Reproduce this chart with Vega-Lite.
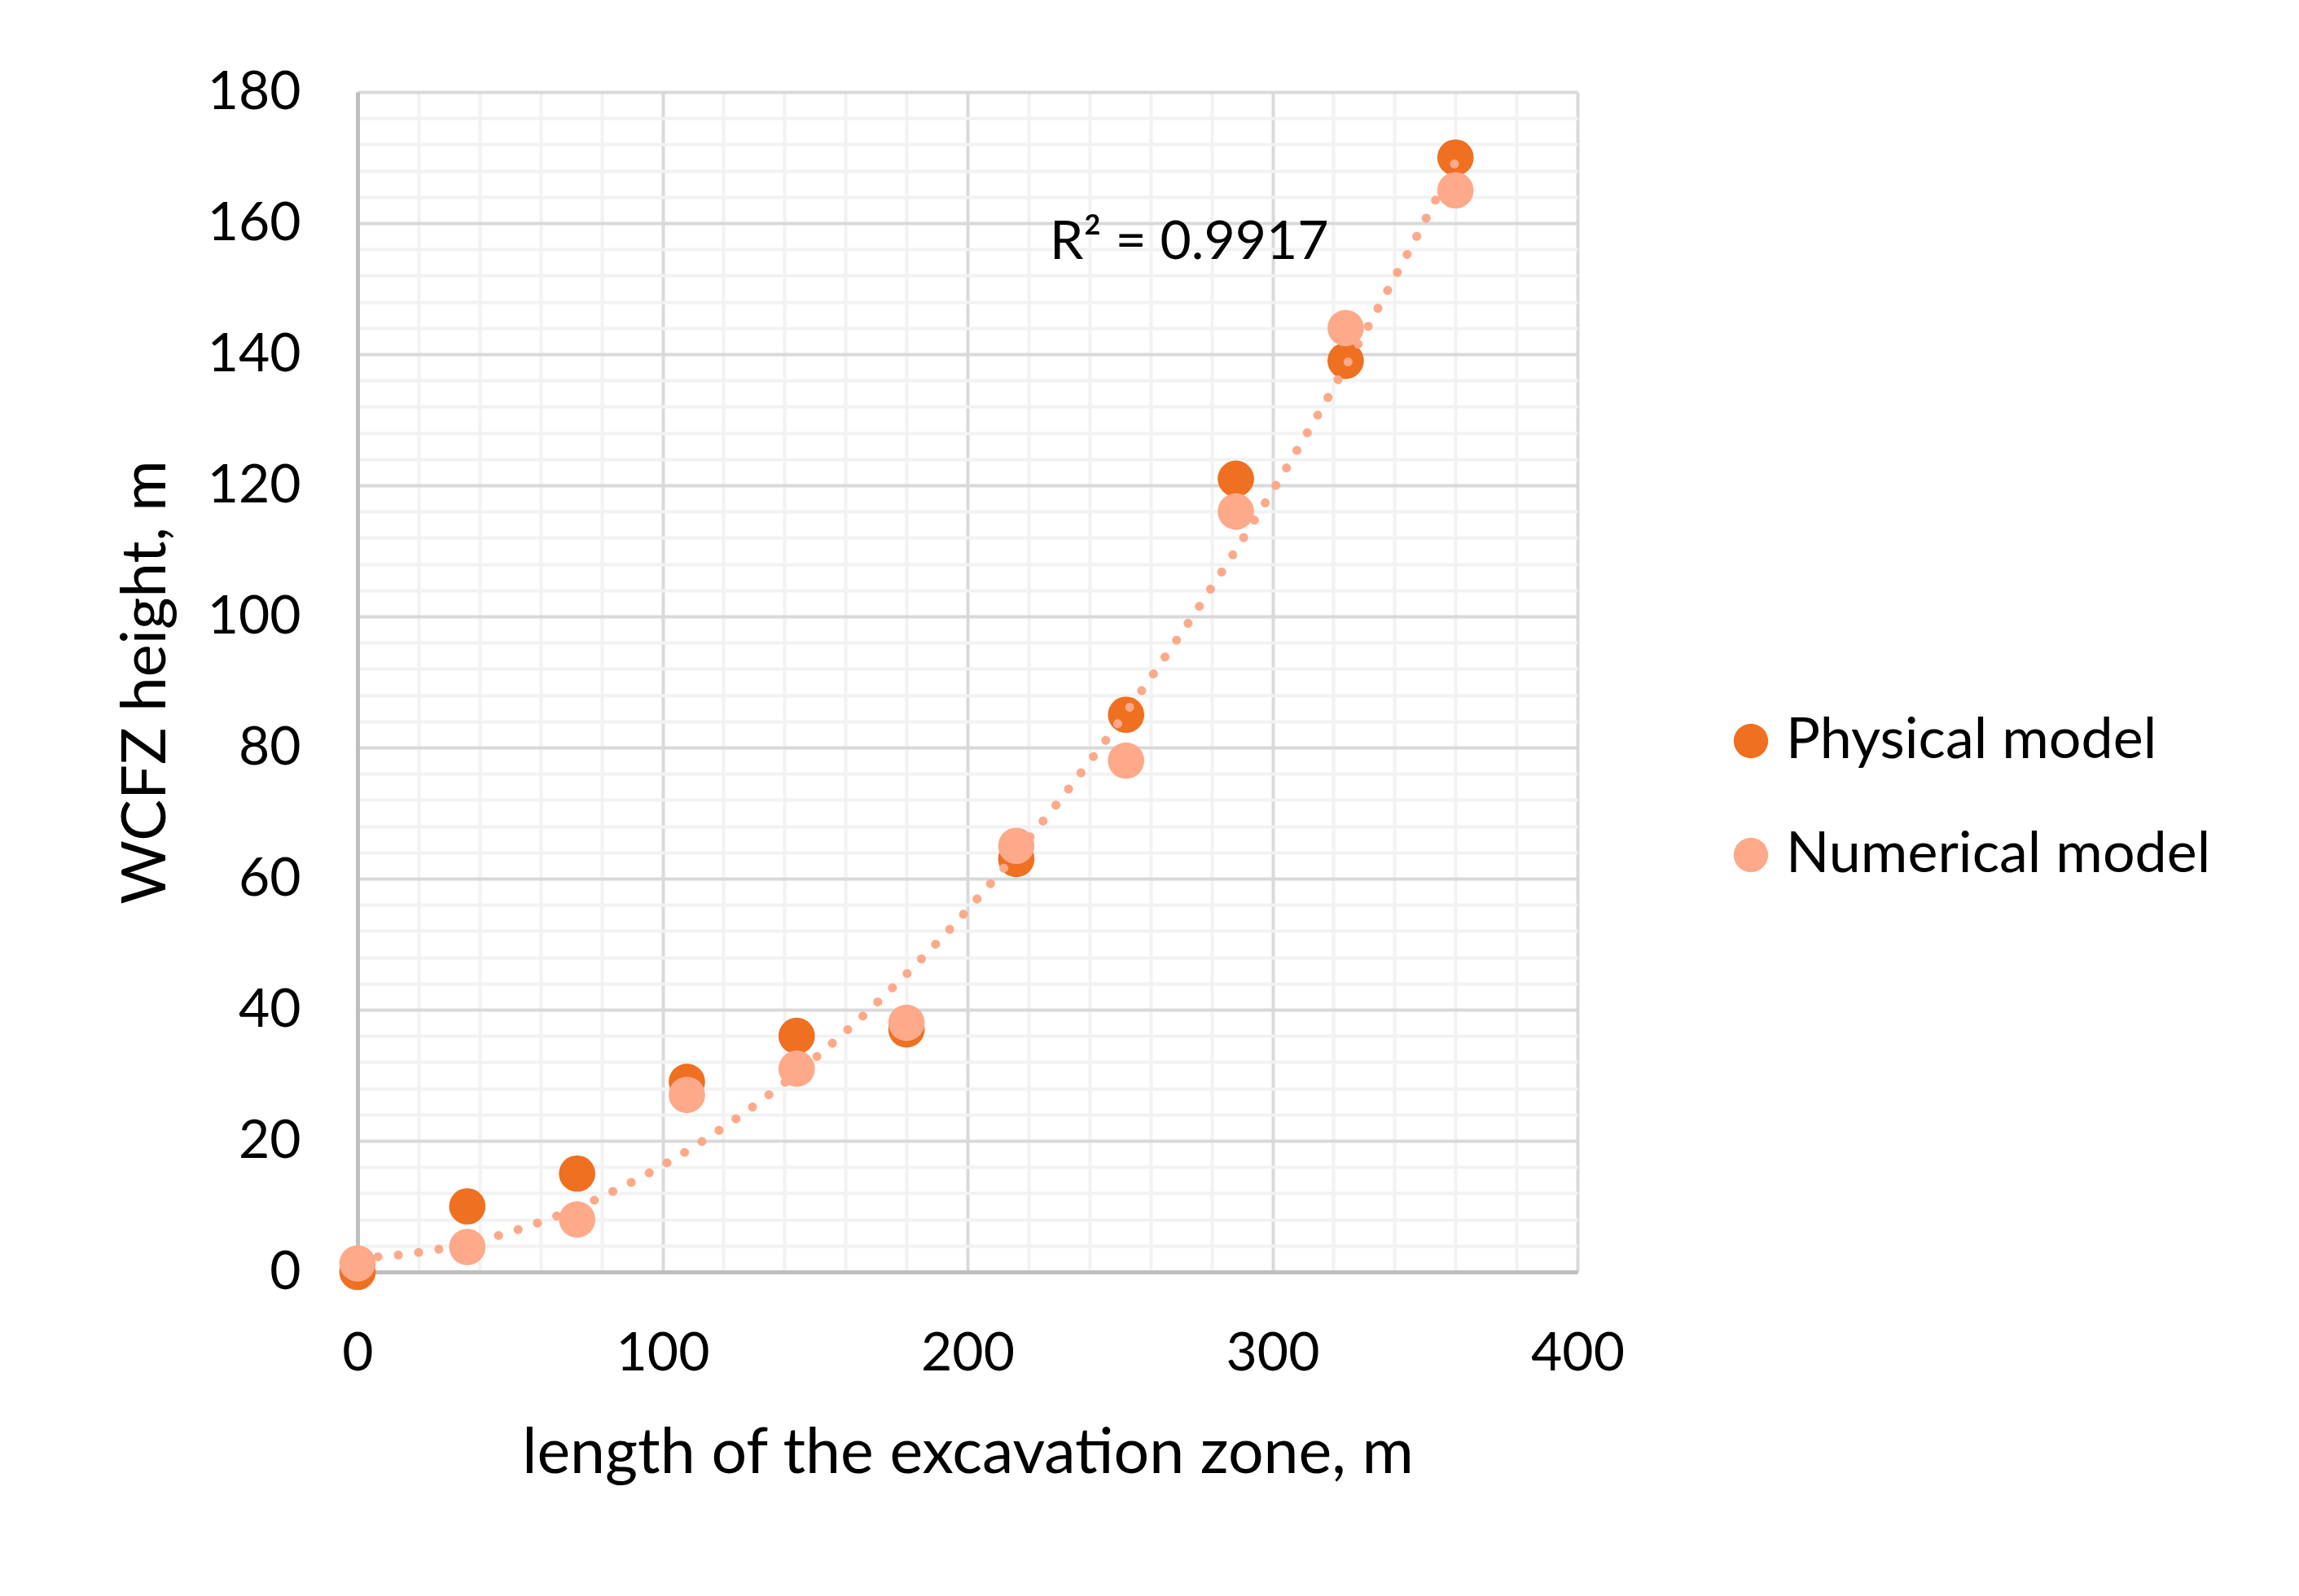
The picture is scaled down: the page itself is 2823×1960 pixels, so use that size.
{
  "$schema": "https://vega.github.io/schema/vega-lite/v6.json",
  "width": 1498,
  "height": 1449,
  "autosize": {"type": "none"},
  "padding": {"left": 439, "top": 113, "right": 886, "bottom": 398},
  "background": "white",
  "config": {
    "font": "Lato",
    "view": {"stroke": null},
    "axis": {"labelColor": "black", "titleColor": "black", "labelFont": "Lato", "titleFont": "Lato", "titleFontWeight": "normal"},
    "legend": {"labelFont": "Lato"}
  },
  "datasets": {
    "points": [
      {"x": 0, "y": 0, "series": "Physical model"},
      {"x": 36, "y": 10, "series": "Physical model"},
      {"x": 72, "y": 15, "series": "Physical model"},
      {"x": 108, "y": 29, "series": "Physical model"},
      {"x": 144, "y": 36, "series": "Physical model"},
      {"x": 180, "y": 37, "series": "Physical model"},
      {"x": 216, "y": 63, "series": "Physical model"},
      {"x": 252, "y": 85, "series": "Physical model"},
      {"x": 288, "y": 121, "series": "Physical model"},
      {"x": 324, "y": 139, "series": "Physical model"},
      {"x": 360, "y": 170, "series": "Physical model"},
      {"x": 0, "y": 1.3, "series": "Numerical model"},
      {"x": 36, "y": 3.8, "series": "Numerical model"},
      {"x": 72, "y": 8, "series": "Numerical model"},
      {"x": 108, "y": 27, "series": "Numerical model"},
      {"x": 144, "y": 31, "series": "Numerical model"},
      {"x": 180, "y": 38, "series": "Numerical model"},
      {"x": 216, "y": 65, "series": "Numerical model"},
      {"x": 252, "y": 78, "series": "Numerical model"},
      {"x": 288, "y": 116, "series": "Numerical model"},
      {"x": 324, "y": 144, "series": "Numerical model"},
      {"x": 360, "y": 165, "series": "Numerical model"}
    ],
    "note": [{"x": 227, "y": 157, "label": "R² = 0.9917"}]
  },
  "layer": [
    {
      "data": {"name": "points"},
      "mark": {"type": "point", "opacity": 0},
      "encoding": {
        "x": {"field": "x", "type": "quantitative", "scale": {"domain": [0, 400], "nice": false},
          "axis": {"orient": "bottom", "values": [20, 40, 60, 80, 120, 140, 160, 180, 220, 240, 260, 280, 320, 340, 360, 380], "grid": true, "gridColor": "#f2f2f2", "gridWidth": 4, "labels": false, "ticks": false, "domain": false, "title": null, "zindex": 0}},
        "y": {"field": "y", "type": "quantitative", "scale": {"domain": [0, 180], "nice": false},
          "axis": {"orient": "left", "values": [4, 8, 12, 16, 24, 28, 32, 36, 44, 48, 52, 56, 64, 68, 72, 76, 84, 88, 92, 96, 104, 108, 112, 116, 124, 128, 132, 136, 144, 148, 152, 156, 164, 168, 172, 176], "grid": true, "gridColor": "#f2f2f2", "gridWidth": 4, "labels": false, "ticks": false, "domain": false, "title": null, "zindex": 0}}
      }
    },
    {
      "data": {"name": "points"},
      "mark": {"type": "circle", "opacity": 1, "size": 2000},
      "encoding": {
        "x": {"field": "x", "type": "quantitative",
          "axis": {"orient": "bottom", "values": [0, 100, 200, 300, 400], "grid": true, "gridColor": "#d9d9d9", "gridWidth": 4, "ticks": false, "domain": true, "domainColor": "#bfbfbf", "domainWidth": 5, "labelFontSize": 66, "labelFlush": false, "labelPadding": 68, "title": "length of the excavation zone, m", "titleFontSize": 77, "titlePadding": 52, "zindex": 0}},
        "y": {"field": "y", "type": "quantitative",
          "axis": {"orient": "left", "values": [0, 20, 40, 60, 80, 100, 120, 140, 160, 180], "grid": true, "gridColor": "#d9d9d9", "gridWidth": 4, "ticks": false, "domain": true, "domainColor": "#bfbfbf", "domainWidth": 5, "labelFontSize": 66, "labelPadding": 70, "title": "WCFZ height, m", "titleFontSize": 76, "titlePadding": 36, "zindex": 0}},
        "color": {"field": "series", "type": "nominal",
          "scale": {"domain": ["Physical model", "Numerical model"], "range": ["#ee7020", "#fda98a"]},
          "legend": {"title": null, "orient": "none", "legendX": 1676, "legendY": 762, "symbolType": "circle", "symbolSize": 1800, "symbolOpacity": 1, "labelFontSize": 70, "labelColor": "black", "labelOffset": 8, "rowPadding": 70, "labelLimit": 1000}},
        "order": {"field": "series", "sort": "descending"}
      }
    },
    {
      "data": {"name": "points"},
      "transform": [
        {"filter": "datum.series === 'Numerical model'"},
        {"regression": "y", "on": "x", "method": "poly", "order": 2, "extent": [0, 360]}
      ],
      "mark": {"type": "line", "color": "#fda98a", "strokeWidth": 11, "strokeCap": "round", "strokeDash": [0.1, 25]},
      "encoding": {
        "x": {"field": "x", "type": "quantitative", "axis": null},
        "y": {"field": "y", "type": "quantitative", "axis": null}
      }
    },
    {
      "data": {"name": "note"},
      "mark": {"type": "text", "align": "left", "baseline": "middle", "fontSize": 66, "font": "Lato", "color": "black"},
      "encoding": {
        "x": {"field": "x", "type": "quantitative", "axis": null},
        "y": {"field": "y", "type": "quantitative", "axis": null},
        "text": {"field": "label"}
      }
    }
  ],
  "resolve": {"axis": {"x": "independent", "y": "independent"}}
}
